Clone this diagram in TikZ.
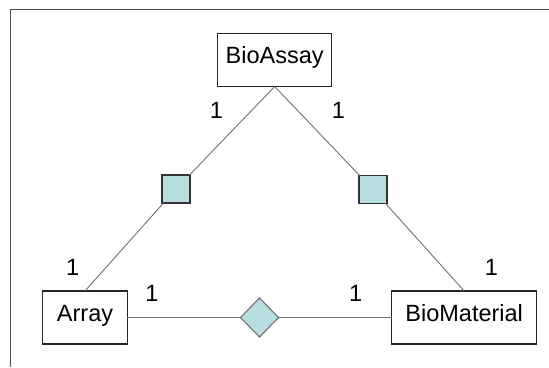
\documentclass[tikz,border=0pt]{standalone}
\usepackage{fontspec}
\setmainfont{Liberation Sans}
\usetikzlibrary{shapes.geometric}
\definecolor{assocfill}{RGB}{184,222,225}
\definecolor{linkgray}{RGB}{112,112,112}
\definecolor{framegray}{RGB}{80,80,80}
\begin{document}
\begin{tikzpicture}[x=1pt,y=-1pt,
  every node/.style={font=\fontsize{23.5}{27}\selectfont, inner sep=0pt, outer sep=0pt,
    text height=0.72em, text depth=0pt},
  entity/.style={draw=black!85, line width=1.2pt, fill=white, minimum height=53pt},
  linkbox/.style={draw=black!80, line width=1.1pt, fill=assocfill, minimum width=28pt, minimum height=28pt},
  linkdia/.style={diamond, draw=linkgray, line width=1.1pt, fill=assocfill, aspect=1,
    minimum width=38pt, minimum height=39pt},
  conn/.style={draw=linkgray, line width=0.9pt},
  mult/.style={}]
  \useasboundingbox (0,0) rectangle (549,367);
  % open frame: top and left edges
  \draw[framegray, line width=0.9pt] (10,367) -- (10,9.5) -- (549,9.5);

  % entities
  \node[entity, minimum width=114pt] (assay) at (274.7,60) {BioAssay};
  \node[entity, minimum width=84.6pt] (array) at (85,317.5) {Array};
  \node[entity, minimum width=145pt] (material) at (464.2,317.5) {BioMaterial};

  % association markers
  \node[linkbox] (lsq) at (176,189) {};
  \node[linkbox] (rsq) at (373,189.5) {};
  \node[linkdia] (dia) at (259.5,317.5) {};

  % connectors
  \draw[conn] (assay.south) -- (lsq);
  \draw[conn] (lsq) -- (array.north);
  \draw[conn] (assay.south) -- (rsq);
  \draw[conn] (rsq) -- (material.north);
  \draw[conn] (array.east) -- (dia);
  \draw[conn] (dia) -- (material.west);

  % multiplicities
  \node[mult] (m1) at (216.5,115.3) {1};
  \node[mult] (m2) at (338.5,115.3) {1};
  \node[mult] (m3) at (72.7,271.7) {1};
  \node[mult] (m4) at (151.8,297.5) {1};
  \node[mult] (m5) at (355.7,297.5) {1};
  \node[mult] (m6) at (491.5,272) {1};
\end{tikzpicture}
\end{document}
